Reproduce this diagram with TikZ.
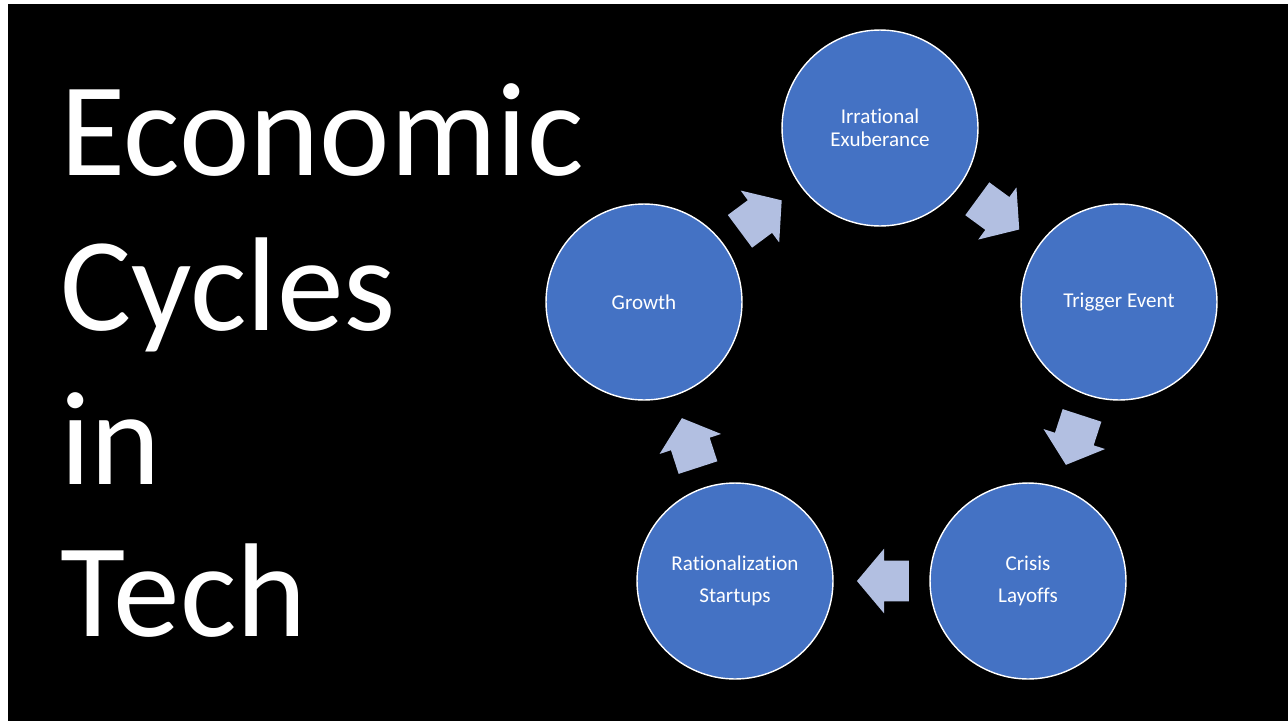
\documentclass[tikz,border=0pt]{standalone}
\usepackage{fontspec}
\setmainfont[Ligatures=NoCommon]{Carlito}
\usetikzlibrary{shapes.arrows,calc}
\definecolor{phaseblue}{HTML}{4472C4}
\definecolor{arrowblue}{RGB}{178,191,225}
\tikzstyle{Phase}=[circle, fill=phaseblue, draw=white, line width=0.8pt, minimum size=3.92cm, text=white, align=center, font=\fontsize{12}{13}\selectfont]
\tikzstyle{Turn}=[single arrow, fill=arrowblue, inner xsep=0pt, inner ysep=0.4cm, minimum height=1.04cm, single arrow head extend=0.24cm, single arrow tip angle=100]
\tikzstyle{Title}=[anchor=base west, inner sep=0pt, text=white, font=\fontsize{76}{80}\selectfont]

\begin{document}
\begin{tikzpicture}[x=0.02cm, y=-0.02cm]
    \fill[white] (0,0) rectangle (1288,721);
    \fill[black] (8,4) rectangle (1288,721);
    \useasboundingbox (0,0) rectangle (1288,721);

    \path
    (60,175) node[Title] (w1) {Economic}
    (60,330) node[Title] (w2) {Cycles}
    (60,484) node[Title] (w3) {in}
    (60,636) node[Title] (w4) {Tech};

    \path
    (880,128) node[Phase] (irr) {Irrational\\Exuberance}
    (1119,302) node[Phase] (trig) {Trigger Event}
    (1028,581) node[Phase] (crisis) {Crisis\\[5pt]Layoffs}
    (735,581) node[Phase] (rat) {Rationalization\\[5pt]Startups}
    (644,302) node[Phase] (growth) {Growth};

    \path ($(growth)!0.466!(irr)$) node[Turn, rotate=36.6] (a1) {}
    ($(irr)!0.466!(trig)$) node[Turn, rotate=-36.2] (a2) {}
    ($(trig)!0.466!(crisis)$) node[Turn, rotate=-108] (a3) {}
    ($(crisis)!0.466!(rat)$) node[Turn, rotate=180] (a4) {}
    ($(rat)!0.466!(growth)$) node[Turn, rotate=108] (a5) {};
\end{tikzpicture}
\end{document}
